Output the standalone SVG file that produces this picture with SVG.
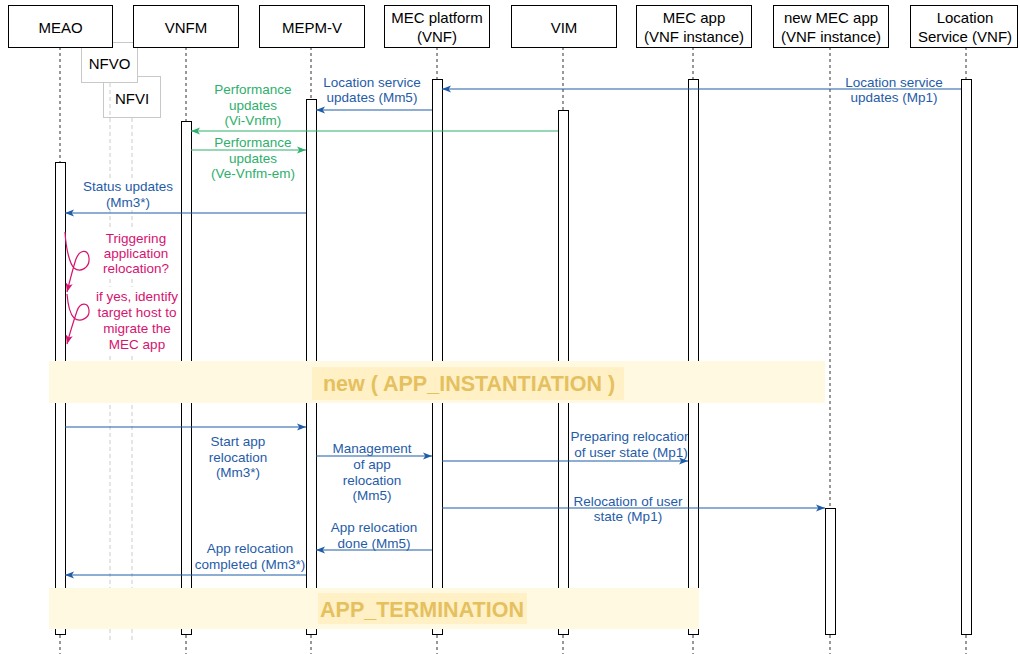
<svg xmlns="http://www.w3.org/2000/svg" width="1020" height="654" viewBox="0 0 1020 654">
<defs>
<style>
.hdr{fill:#fff;stroke:#000;stroke-width:1}
.ht{font-family:"Liberation Sans",Arial,sans-serif;font-size:15px;fill:#000;text-anchor:middle}
.ll{stroke:#333;stroke-width:1;stroke-dasharray:3 3;fill:none}
.gl{stroke:#ccc;stroke-width:1;stroke-dasharray:4 3;fill:none}
.bar{fill:#fff;stroke:#000;stroke-width:1}
.ghost{fill:#fff;stroke:#c8c8c8;stroke-width:1}
.lbl{font-family:"Liberation Sans",Arial,sans-serif;font-size:13.5px;text-anchor:middle}
.blue{fill:#1f5ca8}
.green{fill:#2eaf6b}
.pink{fill:#d6136f}
.cb{stroke:#1f5ca8;stroke-width:1.2;fill:none;marker-end:url(#ab)}
.cg{stroke:#2eaf6b;stroke-width:1.2;fill:none;marker-end:url(#ag)}
.cp{stroke:#d6136f;stroke-width:1.2;fill:none;marker-end:url(#ap)}
.lbg{fill:#fff}
.band{fill:#fff9e1}
.bandlbl{fill:#fff0c6}
.bt{font-family:"Liberation Sans",Arial,sans-serif;font-size:21.5px;font-weight:bold;fill:#e5c05e;text-anchor:middle}
</style>
<marker id="ab" viewBox="0 0 10 8" refX="10" refY="4" markerWidth="9" markerHeight="7.2" markerUnits="userSpaceOnUse" orient="auto"><path d="M0,0 L10,4 L0,8 L2.5,4 z" fill="#1f5ca8"/></marker>
<marker id="ag" viewBox="0 0 10 8" refX="10" refY="4" markerWidth="9" markerHeight="7.2" markerUnits="userSpaceOnUse" orient="auto"><path d="M0,0 L10,4 L0,8 L2.5,4 z" fill="#2eaf6b"/></marker>
<marker id="ap" viewBox="0 0 10 8" refX="10" refY="4" markerWidth="9" markerHeight="7.2" markerUnits="userSpaceOnUse" orient="auto"><path d="M0,0 L10,4 L0,8 L2.5,4 z" fill="#d6136f"/></marker>
<clipPath id="clipPrep"><rect x="0" y="0" width="688" height="654"/></clipPath>
</defs>

<g id="nfvi">
<line class="gl" x1="132" y1="118" x2="132" y2="642"/>
<rect class="ghost" x="103.5" y="76.5" width="57" height="41"/>
<text class="ht" x="132" y="104">NFVI</text>
</g>
<g id="nfvo">
<line class="gl" x1="110" y1="83" x2="110" y2="642"/>
<rect class="ghost" x="81.5" y="42.5" width="56" height="40"/>
<text class="ht" x="109.5" y="69">NFVO</text>
</g>

<g id="meao">
<line class="ll" x1="60" y1="47" x2="60" y2="654"/>
<rect class="bar" x="55.5" y="162.5" width="10" height="472"/>
<rect class="hdr" x="8.5" y="5.5" width="104" height="42"/>
<text class="ht" x="60.5" y="33">MEAO</text>
</g>
<g id="vnfm">
<line class="ll" x1="186" y1="47" x2="186" y2="654"/>
<rect class="bar" x="181.5" y="121.5" width="10" height="513"/>
<rect class="hdr" x="133.5" y="5.5" width="105" height="42"/>
<text class="ht" x="186" y="33">VNFM</text>
</g>
<g id="mepm">
<line class="ll" x1="311" y1="47" x2="311" y2="654"/>
<rect class="bar" x="306.5" y="99.5" width="10" height="535"/>
<rect class="hdr" x="259.5" y="5.5" width="105" height="42"/>
<text class="ht" x="312" y="33">MEPM-V</text>
</g>
<g id="mecplatform">
<line class="ll" x1="437" y1="47" x2="437" y2="654"/>
<rect class="bar" x="432.5" y="79.5" width="10" height="555"/>
<rect class="hdr" x="384.5" y="5.5" width="105" height="42"/>
<text class="ht" x="437" y="23">MEC platform</text>
<text class="ht" x="437" y="42">(VNF)</text>
</g>
<g id="vim">
<line class="ll" x1="563" y1="47" x2="563" y2="654"/>
<rect class="bar" x="558.5" y="110.5" width="10" height="524"/>
<rect class="hdr" x="511.5" y="5.5" width="105" height="42"/>
<text class="ht" x="564" y="33">VIM</text>
</g>
<g id="mecapp">
<line class="ll" x1="693" y1="47" x2="693" y2="654"/>
<rect class="bar" x="688.5" y="79.5" width="10" height="555"/>
<rect class="hdr" x="636.5" y="5.5" width="115" height="42"/>
<text class="ht" x="694" y="23">MEC app</text>
<text class="ht" x="694" y="42">(VNF instance)</text>
</g>
<g id="newmecapp">
<line class="ll" x1="830" y1="47" x2="830" y2="654"/>
<rect class="bar" x="825.5" y="508.5" width="10" height="126"/>
<rect class="hdr" x="773.5" y="5.5" width="115" height="42"/>
<text class="ht" x="831" y="23">new MEC app</text>
<text class="ht" x="831" y="42">(VNF instance)</text>
</g>
<g id="locationservice">
<line class="ll" x1="966" y1="47" x2="966" y2="654"/>
<rect class="bar" x="961.5" y="79.5" width="10" height="555"/>
<rect class="hdr" x="910.5" y="5.5" width="107" height="42"/>
<text class="ht" x="965" y="23">Location</text>
<text class="ht" x="965" y="42">Service (VNF)</text>
</g>

<g id="connectors">
<path class="cb" d="M961 89 H442"/>
<text class="lbl blue" x="894" y="87">Location service</text>
<text class="lbl blue" x="894" y="102">updates (Mp1)</text>

<path class="cb" d="M432 110 H316"/>
<text class="lbl blue" x="372" y="87">Location service</text>
<text class="lbl blue" x="372" y="102">updates (Mm5)</text>

<path class="cg" d="M558 131 H191"/>
<text class="lbl green" x="253" y="94">Performance</text>
<text class="lbl green" x="253" y="109.5">updates</text>
<text class="lbl green" x="253" y="125">(Vi-Vnfm)</text>

<path class="cg" d="M191 150 H306"/>
<text class="lbl green" x="253" y="147">Performance</text>
<text class="lbl green" x="253" y="162.5">updates</text>
<text class="lbl green" x="253" y="178">(Ve-Vnfm-em)</text>

<path class="cb" d="M306 213 H65"/>
<rect class="lbg" x="82" y="179" width="92" height="31"/>
<text class="lbl blue" x="128" y="191">Status updates</text>
<text class="lbl blue" x="128" y="207">(Mm3*)</text>

<path class="cp" d="M65 232 C66 250, 70 264, 74 268 C80 273, 90 268, 89 258 C88 249, 80 249, 76 259 C73 268, 70 280, 67 292"/>
<rect class="lbg" x="103" y="230" width="67" height="48"/>
<text class="lbl pink" x="136" y="243">Triggering</text>
<text class="lbl pink" x="136" y="258">application</text>
<text class="lbl pink" x="136" y="273">relocation?</text>

<path class="cp" d="M67 294 C68 306, 71 315, 74 318 C80 323, 90 318, 89 310 C88 302, 80 302, 77 311 C74 320, 70 332, 67 344"/>
<rect class="lbg" x="95" y="287" width="84" height="66"/>
<text class="lbl pink" x="137" y="301">if yes, identify</text>
<text class="lbl pink" x="137" y="317">target host to</text>
<text class="lbl pink" x="137" y="333">migrate the</text>
<text class="lbl pink" x="137" y="349">MEC app</text>

<path class="cb" d="M65 427 H306"/>
<text class="lbl blue" x="238" y="446">Start app</text>
<text class="lbl blue" x="238" y="461.5">relocation</text>
<text class="lbl blue" x="238" y="477">(Mm3*)</text>

<path class="cb" d="M316 456 H432"/>
<text class="lbl blue" x="372" y="453">Management</text>
<text class="lbl blue" x="372" y="469">of app</text>
<text class="lbl blue" x="372" y="485">relocation</text>
<text class="lbl blue" x="372" y="500">(Mm5)</text>

<path class="cb" d="M442 461 H688"/>
<g clip-path="url(#clipPrep)">
<text class="lbl blue" x="631" y="441">Preparing relocation</text>
<text class="lbl blue" x="631" y="457">of user state (Mp1)</text>
</g>

<path class="cb" d="M442 508 H825"/>
<text class="lbl blue" x="628" y="506">Relocation of user</text>
<text class="lbl blue" x="628" y="521">state (Mp1)</text>

<path class="cb" d="M432 550 H316"/>
<text class="lbl blue" x="374" y="532">App relocation</text>
<text class="lbl blue" x="374" y="548">done (Mm5)</text>

<path class="cb" d="M306 575 H65"/>
<text class="lbl blue" x="250" y="553">App relocation</text>
<text class="lbl blue" x="250" y="569">completed (Mm3*)</text>
</g>

<g id="band-instantiation">
<rect class="band" x="49" y="361" width="776" height="42"/>
<rect class="bandlbl" x="312" y="367" width="312" height="33"/>
<text class="bt" x="469" y="391">new ( APP_INSTANTIATION )</text>
</g>
<g id="band-termination">
<rect class="band" x="49" y="588" width="650" height="41"/>
<rect class="bandlbl" x="318" y="593" width="209" height="31"/>
<text class="bt" x="422" y="617">APP_TERMINATION</text>
</g>
</svg>
